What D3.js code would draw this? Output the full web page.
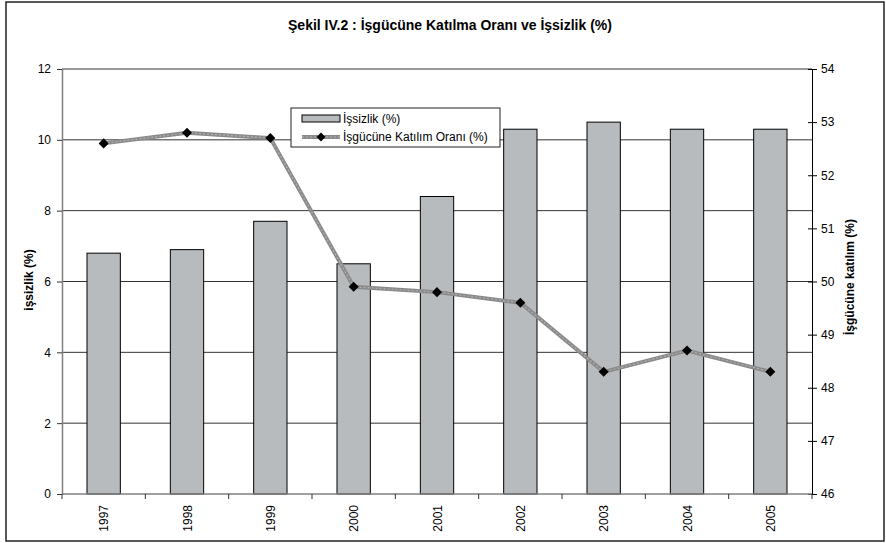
<!DOCTYPE html>
<html>
<head>
<meta charset="utf-8">
<script src="https://cdn.jsdelivr.net/npm/d3@7"></script>
<style>
  body { margin: 0; background: #fff; }
  svg { font-family: "Liberation Sans", Arial, sans-serif; }
</style>
</head>
<body>
<div id="chart"></div>
<script>
// data
const years = ["1997", "1998", "1999", "2000", "2001", "2002", "2003", "2004", "2005"];
const unemployment = [6.8, 6.9, 7.7, 6.5, 8.4, 10.3, 10.5, 10.3, 10.3];
const participation = [52.6, 52.8, 52.7, 49.9, 49.8, 49.6, 48.3, 48.7, 48.3];
const leftTicks = [0, 2, 4, 6, 8, 10, 12];
const rightTicks = [46, 47, 48, 49, 50, 51, 52, 53, 54];

const W = 886, H = 543;
const margin = {top: 69, right: 74, bottom: 49, left: 62};
const width = W - margin.left - margin.right;
const height = H - margin.top - margin.bottom;
const font = "Liberation Sans, Arial, sans-serif";

const svg = d3.select("#chart").append("svg")
    .attr("width", W).attr("height", H);

// outer frame
svg.append("rect")
    .attr("x", 6).attr("y", 2).attr("width", 878).attr("height", 539)
    .attr("fill", "none").attr("stroke", "#222").attr("stroke-width", 1.5);

svg.append("text")
    .attr("x", 450).attr("y", 30)
    .attr("text-anchor", "middle")
    .attr("font-size", 14).attr("font-weight", "bold")
    .text("Şekil IV.2 : İşgücüne Katılma Oranı ve İşsizlik (%)");

const g = svg.append("g").attr("transform", `translate(${margin.left},${margin.top})`);

//scales
const x = d3.scaleBand().domain(years).range([0, width]);
const yL = d3.scaleLinear().domain([0, 12]).range([height, 0]);
const yR = d3.scaleLinear().domain([46, 54]).range([height, 0]);

//gridlines
g.append("g").selectAll("line").data(leftTicks.slice(1)).join("line")
    .attr("x1", 0).attr("x2", width)
    .attr("y1", d => yL(d)).attr("y2", d => yL(d))
    .attr("stroke", "#333").attr("stroke-width", 1);

//bars
const bw = x.bandwidth() * 0.4;
g.append("g").selectAll("rect").data(unemployment).join("rect")
    .attr("x", (d, i) => x(years[i]) + (x.bandwidth() - bw) / 2)
    .attr("y", d => yL(d))
    .attr("width", bw)
    .attr("height", d => height - yL(d))
    .attr("fill", "#b7bbbe").attr("stroke", "#000").attr("stroke-width", 1);

//left axis
const axL = g.append("g").call(d3.axisLeft(yL).tickValues(leftTicks).tickSize(5).tickPadding(6).tickSizeOuter(0));
axL.select(".domain").attr("stroke", "#808080").attr("stroke-width", 1.5);
axL.selectAll(".tick line").attr("stroke", "#333");
axL.selectAll("text").attr("font-size", 12).attr("fill", "#000").attr("font-family", font);

//right axis
const axR = g.append("g").attr("transform", `translate(${width},0)`)
    .call(d3.axisRight(yR).tickValues(rightTicks).tickSize(5).tickPadding(4).tickSizeOuter(0));
axR.select(".domain").attr("stroke", "#000");
axR.selectAll(".tick line").attr("x1", -4).attr("stroke", "#000");
axR.selectAll("text").attr("font-size", 12).attr("fill", "#000").attr("font-family", font);

//bottom axis, ticks between categories
const axB = g.append("g").attr("transform", `translate(0,${height})`);
axB.append("line").attr("x1", 0).attr("x2", width)
    .attr("stroke", "#808080").attr("stroke-width", 1.5);
axB.selectAll("line.tk").data(d3.range(years.length + 1)).join("line")
    .attr("class", "tk")
    .attr("x1", i => i * x.step()).attr("x2", i => i * x.step())
    .attr("y1", 0).attr("y2", 5).attr("stroke", "#333");
axB.selectAll("text").data(years).join("text")
    .attr("transform", d => `translate(${x(d) + x.bandwidth() / 2 + 4.5},11) rotate(-90)`)
    .attr("text-anchor", "end")
    .attr("font-size", 12)
    .text(d => d);

//line series on right scale
const line = d3.line()
    .x((d, i) => x(years[i]) + x.bandwidth() / 2)
    .y(d => yR(d));
g.append("path").datum(participation)
    .attr("fill", "none").attr("stroke", "#8a8a8a").attr("stroke-width", 4)
    .attr("d", line);
g.append("path").datum(participation)
    .attr("fill", "none").attr("stroke", "#b0b0b0").attr("stroke-width", 1.2)
    .attr("stroke-dasharray", "2,2")
    .attr("d", line);
g.append("g").selectAll("path").data(participation).join("path")
    .attr("transform", (d, i) => `translate(${x(years[i]) + x.bandwidth() / 2},${yR(d)})`)
    .attr("d", d3.symbol(d3.symbolDiamond2, 64))
    .attr("fill", "#000");

//axis titles
svg.append("text")
    .attr("transform", "translate(33,280) rotate(-90)")
    .attr("text-anchor", "middle").attr("font-size", 12).attr("font-weight", "bold")
    .text("işsizlik (%)");
svg.append("text")
    .attr("transform", "translate(854,277) rotate(-90)")
    .attr("text-anchor", "middle").attr("font-size", 12).attr("font-weight", "bold")
    .text("İşgücüne katılım (%)");

//legend
const lg = svg.append("g").attr("transform", "translate(291,108)");
lg.append("rect").attr("width", 209).attr("height", 39)
    .attr("fill", "#fff").attr("stroke", "#222").attr("stroke-width", 1);
lg.append("rect").attr("x", 11).attr("y", 7).attr("width", 38).attr("height", 7)
    .attr("fill", "#b7bbbe").attr("stroke", "#000");
lg.append("text").attr("x", 52).attr("y", 15).attr("font-size", 12).text("İşsizlik (%)");
lg.append("line").attr("x1", 11).attr("x2", 49).attr("y1", 29).attr("y2", 29)
    .attr("stroke", "#8a8a8a").attr("stroke-width", 4);
lg.append("line").attr("x1", 11).attr("x2", 49).attr("y1", 29).attr("y2", 29)
    .attr("stroke", "#b0b0b0").attr("stroke-width", 1.2).attr("stroke-dasharray", "2,2");
lg.append("path").attr("transform", "translate(30,29)")
    .attr("d", d3.symbol(d3.symbolDiamond2, 50)).attr("fill", "#000");
lg.append("text").attr("x", 52).attr("y", 33).attr("font-size", 12).text("İşgücüne Katılım Oranı (%)");
</script>
</body>
</html>
